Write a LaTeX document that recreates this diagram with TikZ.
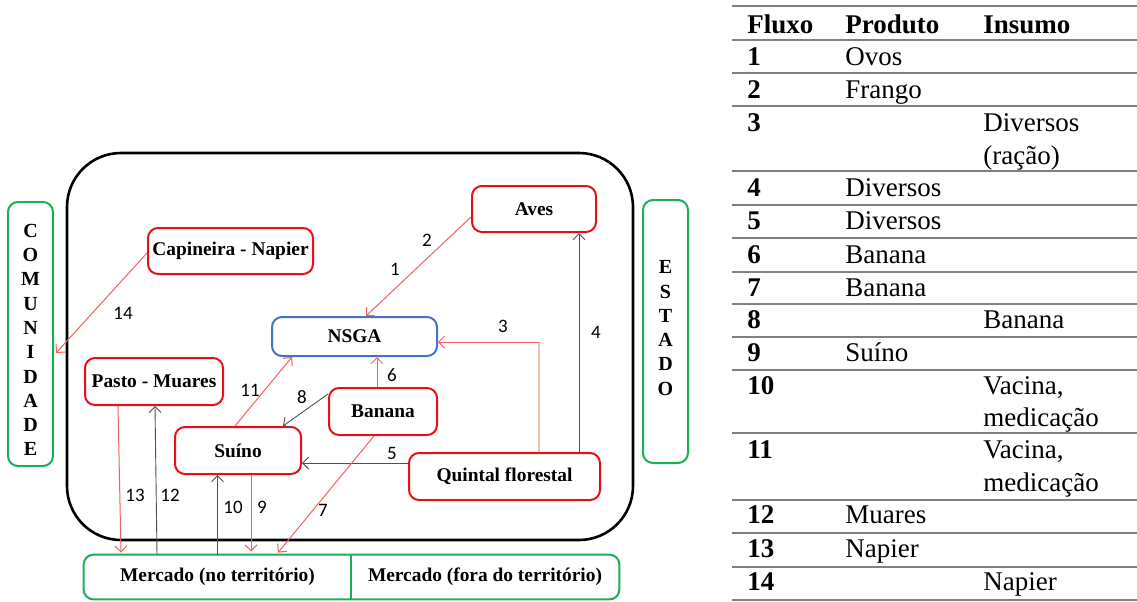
\documentclass[tikz,border=0pt]{standalone}
\usepackage{fontspec}
\setmainfont{LiberationSerif}[Extension=.ttf,UprightFont=*-Regular,BoldFont=*-Bold,ItalicFont=*-Italic,BoldItalicFont=*-BoldItalic]
\newfontfamily\numfont{Carlito}
\usetikzlibrary{arrows.meta,calc}

\definecolor{boxred}{RGB}{232,16,22}
\definecolor{nsgablue}{RGB}{68,114,196}
\definecolor{sidegreen}{RGB}{24,176,84}
\definecolor{flowred}{RGB}{240,96,96}
\definecolor{flowgray}{RGB}{80,80,80}
\definecolor{flowtan}{RGB}{230,200,178}
\definecolor{rulegray}{RGB}{128,128,128}

\begin{document}
\begin{tikzpicture}[x=0.5pt,y=-0.5pt,
  unit/.style={draw=boxred,line width=1pt,rounded corners=5pt,inner sep=0pt,
    font=\bfseries\fontsize{9.7}{11}\selectfont},
  hub/.style={unit,draw=nsgablue},
  side/.style={draw=sidegreen,line width=1pt,rounded corners=5pt,inner sep=0pt},
  lettercol/.style={align=center,inner sep=0pt,font=\bfseries\fontsize{10}{12.15}\selectfont},
  market/.style={inner sep=0pt,font=\bfseries\fontsize{9.7}{11}\selectfont},
  redflow/.style={draw=flowred,line width=0.5pt,-{Straight Barb[length=3pt,width=6pt]}},
  grayflow/.style={draw=flowgray,line width=0.45pt,-{Straight Barb[length=3pt,width=6pt]}},
  flownum/.style={inner sep=0pt,font=\numfont\fontsize{9.5}{11}\selectfont},
  tabhead/.style={anchor=base west,inner sep=0pt,font=\rmfamily\bfseries\fontsize{13.5}{16.5}\selectfont},
  tabcell/.style={anchor=base west,inner sep=0pt,font=\rmfamily\mdseries\fontsize{13.5}{16.5}\selectfont},
  tabrule/.style={draw=rulegray,line width=0.9pt}
]
\useasboundingbox (0,0) rectangle (1137,601);

% property boundary
\draw[line width=1.3pt,rounded corners=27pt] (67,153) rectangle (633,540);

% side actors
\node[side,minimum width=22.5pt,minimum height=132pt] (comunidade) at (30.5,334) {};
\node[lettercol] (comtext) at (30.5,340) {C\\O\\M\\U\\N\\I\\D\\A\\D\\E};
\node[side,minimum width=22.5pt,minimum height=131.5pt] (estado) at (665.5,331.5) {};
\node[lettercol] (esttext) at (665.5,328) {E\\S\\T\\A\\D\\O};

% production units
\node[unit,minimum width=62pt,minimum height=23pt] (aves) at (534,209) {Aves};
\node[unit,minimum width=82.5pt,minimum height=23pt] (capineira) at (230.5,251) {Capineira - Napier};
\node[hub,minimum width=82.5pt,minimum height=19.5pt] (nsga) at (354.5,336.5) {NSGA};
\node[unit,minimum width=69pt,minimum height=23.5pt] (pasto) at (154,381.5) {Pasto - Muares};
\node[unit,minimum width=54pt,minimum height=23.5pt] (banana) at (383,411.5) {Banana};
\node[unit,minimum width=63pt,minimum height=23.5pt] (suino) at (238,450.5) {Suíno};
\node[unit,minimum width=95.5pt,minimum height=23.5pt] (quintal) at (504.5,476.5) {Quintal florestal};

% markets
\node[market,minimum width=133.5pt,minimum height=22pt] (mercin) at (217.5,577) {Mercado (no território)};
\node[market,minimum width=134pt,minimum height=22pt] (mercout) at (485,577) {Mercado (fora do território)};
\draw[sidegreen,line width=1pt,rounded corners=5pt] (mercin.north west) rectangle (mercout.south east);
\draw[sidegreen,line width=1pt] (mercin.north east) -- (mercin.south east);

% flows
\draw[redflow] ([yshift=-4pt]aves.west) -- ([xshift=5.75pt]nsga.north);
\coordinate (q3) at ([xshift=17.25pt]quintal.north);
\coordinate (n3) at ([yshift=-2.75pt]nsga.east);
\draw[flowtan,line width=0.6pt] (q3) -- (q3 |- n3);
\draw[redflow] (q3 |- n3) -- (n3);
\coordinate (q4) at ([xshift=37.25pt]quintal.north);
\draw[grayflow] (q4) -- (q4 |- aves.south);
\coordinate (q5) at ([yshift=6.75pt]quintal.west);
\draw[grayflow] (q5) -- (q5 -| suino.east);
\coordinate (b6) at ([xshift=-3pt]banana.north);
\draw[redflow] (b6) -- (b6 |- nsga.south);
\draw[redflow] ([xshift=-4.5pt]banana.south) -- ([xshift=30.25pt,yshift=1pt]mercin.north);
\draw[grayflow] ([yshift=8.75pt]banana.west) -- ([xshift=22.5pt]suino.north);
\coordinate (s9) at ([xshift=6.5pt]suino.south);
\draw[redflow] (s9) -- ([yshift=1.5pt]s9 |- mercin.north);
\draw[grayflow] (mercin.north) -- (mercin.north |- suino.south);
\draw[redflow] ([xshift=-1.5pt]suino.north) -- ([xshift=-31.25pt]nsga.south);
\draw[grayflow] ([xshift=-30.25pt]mercin.north) -- ([xshift=0.5pt]pasto.south);
\draw[redflow] ([xshift=-18pt]pasto.south) -- ([xshift=-48.25pt,yshift=1pt]mercin.north);
\draw[redflow] ([yshift=-1pt]capineira.west) -- ([xshift=1pt,yshift=-9.5pt]comunidade.east);

% flow numbers
\node[flownum] (l1) at (395,269) {1};
\node[flownum] (l2) at (427,240) {2};
\node[flownum] (l3) at (503,326) {3};
\node[flownum] (l4) at (596,332) {4};
\node[flownum] (l5) at (392,453) {5};
\node[flownum] (l6) at (392,375) {6};
\node[flownum] (l7) at (323,510) {7};
\node[flownum] (l8) at (302,397) {8};
\node[flownum] (l9) at (262,507) {9};
\node[flownum] (l10) at (233,507) {10};
\node[flownum] (l11) at (250,390) {11};
\node[flownum] (l12) at (170,495) {12};
\node[flownum] (l13) at (135,495) {13};
\node[flownum] (l14) at (123,313) {14};

% flow table: rules
\foreach \r in {6,40,73,106,171,205,238,272,304,337,370,433,500,533,567,600}
  \draw[tabrule] (732,\r) -- (1137,\r);

% flow table: header
\node[tabhead] (hflux) at (747,33) {Fluxo};
\node[tabhead] (hprod) at (845,33) {Produto};
\node[tabhead] (hins) at (983,33) {Insumo};

% flow table: rows
\node[tabhead] (f1) at (747,65) {1};   \node[tabcell] (p1) at (845,65) {Ovos};
\node[tabhead] (f2) at (747,98) {2};   \node[tabcell] (p2) at (845,98) {Frango};
\node[tabhead] (f3) at (747,131) {3};  \node[tabcell] (i3a) at (983,131) {Diversos};
                                        \node[tabcell] (i3b) at (983,164) {(ração)};
\node[tabhead] (f4) at (747,196) {4};  \node[tabcell] (p4) at (845,196) {Diversos};
\node[tabhead] (f5) at (747,229) {5};  \node[tabcell] (p5) at (845,229) {Diversos};
\node[tabhead] (f6) at (747,263) {6};  \node[tabcell] (p6) at (845,263) {Banana};
\node[tabhead] (f7) at (747,296) {7};  \node[tabcell] (p7) at (845,296) {Banana};
\node[tabhead] (f8) at (747,328) {8};  \node[tabcell] (i8) at (983,328) {Banana};
\node[tabhead] (f9) at (747,361) {9};  \node[tabcell] (p9) at (845,361) {Suíno};
\node[tabhead] (f10) at (747,394) {10}; \node[tabcell] (i10a) at (983,394) {Vacina,};
                                         \node[tabcell] (i10b) at (983,426) {medicação};
\node[tabhead] (f11) at (747,458) {11}; \node[tabcell] (i11a) at (983,458) {Vacina,};
                                         \node[tabcell] (i11b) at (983,491) {medicação};
\node[tabhead] (f12) at (747,523) {12}; \node[tabcell] (p12) at (845,523) {Muares};
\node[tabhead] (f13) at (747,557) {13}; \node[tabcell] (p13) at (845,557) {Napier};
\node[tabhead] (f14) at (747,590) {14}; \node[tabcell] (i14) at (983,590) {Napier};
\end{tikzpicture}
\end{document}
